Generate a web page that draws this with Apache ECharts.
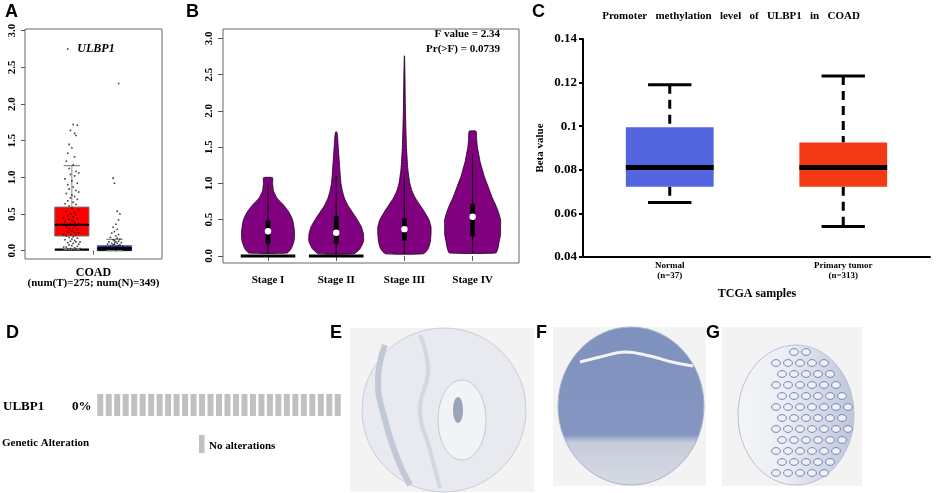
<!DOCTYPE html>
<html>
<head>
<meta charset="utf-8">
<title>ULBP1 in COAD</title>
<script src="https://cdn.jsdelivr.net/npm/echarts@6/dist/echarts.min.js"></script>
<style>
  html, body { margin: 0; padding: 0; background: #fff; }
  #main { width: 941px; height: 493px; }
</style>
</head>
<body>
<div id="main"></div>
<script>
var SERIF = '"Liberation Serif","Times New Roman",serif';
var SANS = '"Liberation Sans",Arial,sans-serif';

// ---- A: expression boxplot (tumor vs normal) ----
var aGroups = ['Tumor', 'Normal'];
var aCenters = [0.342, 0.653];
var aQ1 = [0.20, 0.00];
var aMed = [0.355, 0.03];
var aQ3 = [0.595, 0.07];
var aHi = [1.16, 0.155];
var aLo = [0.02, 0.00];
var aDense = [0.03, 0.05];
var aYTicks = [0, 0.5, 1, 1.5, 2, 2.5, 3];
// [jitter offset, value]
var aTumorPts = [
  [-0.03,2.75],[0.01,1.72],[0.04,1.71],[-0.01,1.64],[0.02,1.60],[0.03,1.57],[-0.02,1.45],[0.00,1.40],
  [-0.03,1.33],[0.02,1.28],[-0.04,1.22],[0.01,1.17],[-0.02,1.12],[0.03,1.08],[0.05,1.06],[-0.01,1.04],
  [0.02,1.02],[-0.05,0.98],[0.00,0.95],[0.04,0.92],[-0.03,0.90],[0.01,0.87],[-0.02,0.84],[0.03,0.82],
  [0.05,0.80],[-0.04,0.78],[0.00,0.76],[0.02,0.74],[-0.01,0.72],[0.04,0.70],[-0.03,0.68],[0.01,0.66],
  [-0.05,0.64],[0.03,0.63],[-0.02,0.61],[0.00,0.58],[0.05,0.56],[-0.04,0.54],[0.02,0.52],[-0.01,0.50],
  [0.03,0.49],[-0.03,0.47],[0.01,0.46],[0.04,0.44],[-0.02,0.43],[0.00,0.41],[-0.05,0.40],[0.02,0.39],
  [0.05,0.37],[-0.01,0.36],[0.03,0.34],[-0.04,0.33],[0.01,0.31],[-0.02,0.30],[0.04,0.29],[0.00,0.27],
  [-0.03,0.26],[0.02,0.25],[0.05,0.24],[-0.01,0.22],[0.03,0.21],[-0.04,0.20],[0.01,0.19],[-0.02,0.18],
  [0.04,0.17],[0.00,0.16],[-0.05,0.15],[0.02,0.14],[-0.01,0.13],[0.03,0.12],[-0.03,0.11],[0.01,0.10],
  [0.05,0.09],[-0.02,0.08],[0.00,0.07],[0.04,0.06],[-0.04,0.05],[0.02,0.04],[-0.01,0.03],[0.03,0.02],
  [-0.03,0.02],[0.01,0.01],[0.06,0.03],[-0.06,0.05],[0.06,0.12],[-0.06,0.22],[0.06,0.35],[-0.06,0.45]
];
var aNormalPts = [
  [0.03,2.28],[-0.01,0.99],[0.00,0.92],[0.02,0.54],[0.04,0.50],[0.03,0.42],[0.01,0.36],[-0.01,0.32],
  [0.02,0.29],[0.00,0.26],[-0.02,0.24],[0.03,0.22],[0.01,0.20],[-0.03,0.18],[0.02,0.17],[0.04,0.16],
  [-0.01,0.15],[0.00,0.14],[0.03,0.13],[-0.04,0.12],[0.01,0.12],[0.05,0.11],[-0.02,0.10],[0.02,0.10],
  [0.00,0.09],[-0.05,0.09],[0.04,0.08],[-0.01,0.08],[0.03,0.07],[-0.03,0.07],[0.01,0.06],[0.06,0.06],
  [-0.06,0.05],[0.02,0.05],[-0.02,0.04],[0.05,0.03],[0.00,0.03],[-0.04,0.02],[0.03,0.02],[0.01,0.01]
];

// ---- B: violins by stage ----
var stages = ['Stage I', 'Stage II', 'Stage III', 'Stage IV'];
var stageLo = [0.04, 0.03, 0.03, 0.04];
var stageQ1 = [0.17, 0.17, 0.21, 0.27];
var stageMed = [0.34, 0.32, 0.37, 0.54];
var stageQ3 = [0.49, 0.55, 0.52, 0.72];
var stageHi = [1.01, 1.10, 1.15, 1.40];
var stageZero = [0.40, 0.40, 0, 0];
var bTicks = [0, 0.5, 1, 1.5, 2, 2.5, 3];
// [value, half width]
var violinI = [[0.04,0.28],[0.1,0.34],[0.2,0.38],[0.3,0.39],[0.4,0.38],[0.5,0.36],[0.6,0.31],[0.7,0.23],
  [0.8,0.13],[0.9,0.08],[1.0,0.067],[1.08,0.066]];
var violinII = [[0.03,0.26],[0.1,0.35],[0.2,0.40],[0.3,0.40],[0.4,0.37],[0.5,0.31],[0.6,0.24],[0.7,0.17],
  [0.8,0.12],[0.9,0.09],[1.0,0.07],[1.1,0.06],[1.3,0.045],[1.5,0.03],[1.65,0.02],[1.71,0.008]];
var violinIII = [[0.03,0.28],[0.1,0.35],[0.2,0.38],[0.3,0.39],[0.4,0.39],[0.5,0.36],[0.6,0.30],[0.7,0.23],
  [0.8,0.16],[0.9,0.11],[1.0,0.08],[1.2,0.05],[1.5,0.03],[2.0,0.015],[2.5,0.008],[2.76,0.002]];
var violinIV = [[0.04,0.34],[0.1,0.37],[0.2,0.39],[0.3,0.41],[0.4,0.41],[0.5,0.41],[0.6,0.38],[0.7,0.34],
  [0.8,0.29],[0.9,0.25],[1.0,0.21],[1.1,0.17],[1.2,0.14],[1.3,0.11],[1.4,0.09],[1.5,0.07],[1.6,0.06],[1.72,0.05]];
var violins = [violinI, violinII, violinIII, violinIV];

// ---- C: methylation boxplot ----
var cCats = ['Normal\n(n=37)', 'Primary tumor\n(n=313)'];
var cMin = [0.065, 0.054];
var cQ1 = [0.0722, 0.0722];
var cMed = [0.081, 0.081];
var cQ3 = [0.0995, 0.0925];
var cMax = [0.119, 0.123];
var cColors = ['#5366e0', '#f23a14'];

// ---- D: oncoprint ----
var dSamples = [];
for (var k = 1; k <= 29; k++) dSamples.push('S' + k);
var dAltered = [1,1,1,1,1,1,1,1,1,1,1,1,1,1,1,1,1,1,1,1,1,1,1,1,1,1,1,1,1];

var chart = echarts.init(document.getElementById('main'));

function aBoxItem(params, api) {
  var i = params.dataIndex;
  var c = aCenters[i], hw = 0.125;
  var tl = api.coord([c - hw, aQ3[i]]);
  var br = api.coord([c + hw, aQ1[i]]);
  var m1 = api.coord([c - hw, aMed[i]]);
  var m2 = api.coord([c + hw, aMed[i]]);
  var d1 = api.coord([c - hw, aDense[i]]);
  var d0 = api.coord([c + hw, 0]);
  var hi1 = api.coord([c - 0.06, aHi[i]]);
  var hi2 = api.coord([c + 0.06, aHi[i]]);
  var lo1 = api.coord([c - 0.06, aLo[i]]);
  var lo2 = api.coord([c + 0.06, aLo[i]]);
  var fill = i === 0 ? '#ff0000' : '#1f2ed8';
  return {
    type: 'group',
    children: [
      { type: 'line', shape: { x1: (hi1[0] + hi2[0]) / 2, y1: hi1[1], x2: (hi1[0] + hi2[0]) / 2, y2: tl[1] }, style: { stroke: '#888', lineWidth: 1 } },
      { type: 'rect', shape: { x: tl[0], y: tl[1], width: br[0] - tl[0], height: Math.max(br[1] - tl[1], 1) }, style: { fill: fill, stroke: '#777', lineWidth: 1 } },
      { type: 'rect', shape: { x: d1[0], y: d1[1], width: d0[0] - d1[0], height: d0[1] - d1[1] }, style: { fill: '#000' } },
      { type: 'line', shape: { x1: m1[0], y1: m1[1], x2: m2[0], y2: m2[1] }, style: { stroke: '#000', lineWidth: 2 } },
      { type: 'line', shape: { x1: hi1[0], y1: hi1[1], x2: hi2[0], y2: hi2[1] }, style: { stroke: '#888', lineWidth: 1.2 } },
      { type: 'line', shape: { x1: lo1[0], y1: lo1[1], x2: lo2[0], y2: lo2[1] }, style: { stroke: '#888', lineWidth: 1.2 } }
    ]
  };
}

function violinItem(params, api) {
  var i = params.dataIndex;
  var x0 = i + 1;
  var prof = violins[i];
  var pts = [];
  prof.forEach(function (p) { pts.push(api.coord([x0 + p[1], p[0]])); });
  prof.slice().reverse().forEach(function (p) { pts.push(api.coord([x0 - p[1], p[0]])); });
  var bw = 0.035;
  var q1 = api.coord([x0 - bw, stageQ1[i]]);
  var q3 = api.coord([x0 + bw, stageQ3[i]]);
  var lo = api.coord([x0, stageLo[i]]);
  var hi = api.coord([x0, stageHi[i]]);
  var med = api.coord([x0, stageMed[i]]);
  var children = [
    { type: 'polygon', shape: { points: pts, smooth: 0.15 }, style: { fill: '#800080', stroke: '#1a001a', lineWidth: 0.8 } },
    { type: 'line', shape: { x1: lo[0], y1: lo[1], x2: hi[0], y2: hi[1] }, style: { stroke: '#000', lineWidth: 1 } },
    { type: 'rect', shape: { x: q1[0], y: q3[1], width: q3[0] - q1[0], height: q1[1] - q3[1] }, style: { fill: '#000' } },
    { type: 'circle', shape: { cx: med[0], cy: med[1], r: 3.2 }, style: { fill: '#fff' } }
  ];
  if (stageZero[i] > 0) {
    var z1 = api.coord([x0 - stageZero[i], 0]);
    var z2 = api.coord([x0 + stageZero[i], 0]);
    children.push({ type: 'line', shape: { x1: z1[0], y1: z1[1], x2: z2[0], y2: z2[1] }, style: { stroke: '#000', lineWidth: 3 } });
  }
  return { type: 'group', children: children };
}

function cBoxItem(params, api) {
  var i = params.dataIndex;
  var band = api.size([1, 0])[0];
  var hw = band * 0.253;
  var cw = band * 0.125;
  var cx = api.coord([i, cMed[i]])[0];
  var y = function (v) { return api.coord([i, v])[1]; };
  return {
    type: 'group',
    children: [
      { type: 'line', shape: { x1: cx, y1: y(cMax[i]), x2: cx, y2: y(cQ3[i]) }, style: { stroke: '#000', lineWidth: 3, lineDash: [9, 6] } },
      { type: 'line', shape: { x1: cx, y1: y(cQ1[i]), x2: cx, y2: y(cMin[i]) }, style: { stroke: '#000', lineWidth: 3, lineDash: [9, 6] } },
      { type: 'line', shape: { x1: cx - cw, y1: y(cMax[i]), x2: cx + cw, y2: y(cMax[i]) }, style: { stroke: '#000', lineWidth: 3 } },
      { type: 'line', shape: { x1: cx - cw, y1: y(cMin[i]), x2: cx + cw, y2: y(cMin[i]) }, style: { stroke: '#000', lineWidth: 3 } },
      { type: 'rect', shape: { x: cx - hw, y: y(cQ3[i]), width: hw * 2, height: y(cQ1[i]) - y(cQ3[i]) }, style: { fill: cColors[i] } },
      { type: 'line', shape: { x1: cx - hw, y1: y(cMed[i]), x2: cx + hw, y2: y(cMed[i]) }, style: { stroke: '#000', lineWidth: 5 } }
    ]
  };
}

function txt(x, y, text, size, opts) {
  opts = opts || {};
  return {
    type: 'text', x: x, y: y, rotation: opts.rotation || 0, silent: true,
    style: {
      text: text, fill: '#000', fontFamily: opts.family || SERIF, fontWeight: opts.weight || 'bold',
      fontStyle: opts.style || 'normal', fontSize: size,
      textAlign: opts.align || 'left', textVerticalAlign: 'middle'
    }
  };
}

// decorative crypts for tissue G
var gCrypts = [];
for (var yy = 352; yy < 484; yy += 11) {
  for (var xx = 770; xx < 856; xx += 12) {
    var cxx = xx + ((yy - 352) % 22 ? 6 : 0);
    var dx = (cxx - 800) / 54, dy = (yy - 415) / 70;
    if (dx * dx + dy * dy < 0.9 && cxx > 770) {
      gCrypts.push({ type: 'ellipse', silent: true, shape: { cx: cxx, cy: yy, rx: 4.4, ry: 3.4 }, style: { fill: '#eef0f5', stroke: '#7283b5', lineWidth: 1 } });
    }
  }
}

var graphics = [
  txt(5, 12, 'A', 18, { family: SANS }),
  txt(186, 12, 'B', 18, { family: SANS }),
  txt(532, 12, 'C', 18, { family: SANS }),
  txt(6, 333, 'D', 18, { family: SANS }),
  txt(330, 333, 'E', 18, { family: SANS }),
  txt(536, 333, 'F', 18, { family: SANS }),
  txt(706, 333, 'G', 18, { family: SANS }),
  txt(96, 49, 'ULBP1', 12, { align: 'center', style: 'italic' }),
  txt(500, 34, 'F value = 2.34', 11, { align: 'right' }),
  txt(500, 49, 'Pr(>F) = 0.0739', 11, { align: 'right' }),
  txt(731, 16, 'Promoter   methylation   level   of   ULBP1   in   COAD', 11, { align: 'center' }),
  txt(540, 148, 'Beta value', 11, { align: 'center', rotation: Math.PI / 2 }),
  txt(757, 294, 'TCGA samples', 12, { align: 'center' }),
  txt(3, 407, 'ULBP1', 13),
  txt(72, 407, '0%', 13),
  txt(2, 443, 'Genetic Alteration', 11),
  { type: 'rect', silent: true, shape: { x: 199, y: 435, width: 5.5, height: 18 }, style: { fill: '#c0c0c0' } },
  txt(209, 446, 'No alterations', 11),
  // tissue images E, F, G
  { type: 'rect', silent: true, shape: { x: 350, y: 328, width: 184, height: 164 }, style: { fill: '#f3f3f3' } },
  { type: 'circle', silent: true, shape: { cx: 444, cy: 410, r: 82 }, style: { fill: '#e8eaef', stroke: '#c8cdd8', lineWidth: 1 } },
  { type: 'polyline', silent: true, shape: { points: [[385, 345], [378, 380], [385, 420], [398, 460], [410, 485]], smooth: 0.5 }, style: { stroke: '#c2c8d6', lineWidth: 6, fill: null } },
  { type: 'polyline', silent: true, shape: { points: [[420, 335], [428, 370], [420, 410], [430, 450], [440, 488]], smooth: 0.5 }, style: { stroke: '#d3d7e1', lineWidth: 4, fill: null } },
  { type: 'ellipse', silent: true, shape: { cx: 462, cy: 420, rx: 24, ry: 40 }, style: { fill: '#f2f3f6', stroke: '#c3c9d6', lineWidth: 1 } },
  { type: 'ellipse', silent: true, shape: { cx: 458, cy: 410, rx: 5, ry: 13 }, style: { fill: '#9aa3bb' } },
  { type: 'rect', silent: true, shape: { x: 553, y: 327, width: 153, height: 159 }, style: { fill: '#f3f3f3' } },
  { type: 'ellipse', silent: true, shape: { cx: 631, cy: 406, rx: 73, ry: 79 },
    style: { fill: new echarts.graphic.LinearGradient(0, 0, 0, 1, [
      { offset: 0, color: '#7f91bd' }, { offset: 0.68, color: '#8395c0' },
      { offset: 0.73, color: '#c6ccda' }, { offset: 1, color: '#d6dae3' }]), stroke: '#aab3c9', lineWidth: 1 } },
  { type: 'polyline', silent: true, shape: { points: [[580, 362], [600, 357], [625, 352], [650, 356], [672, 362], [693, 366]], smooth: 0.4 }, style: { stroke: '#f3f4f8', lineWidth: 3, fill: null } },
  { type: 'rect', silent: true, shape: { x: 722, y: 327, width: 140, height: 159 }, style: { fill: '#f3f3f3' } },
  { type: 'ellipse', silent: true, shape: { cx: 796, cy: 415, rx: 58, ry: 70 },
    style: { fill: new echarts.graphic.LinearGradient(0, 0, 1, 0, [
      { offset: 0, color: '#f4f5f8' }, { offset: 0.4, color: '#eceef3' }, { offset: 1, color: '#bcc5db' }]), stroke: '#b9c1d6', lineWidth: 1 } }
].concat(gCrypts);

var option = {
  animation: false,
  textStyle: { fontFamily: SERIF },
  graphic: graphics,
  grid: [
    { left: 25, top: 29, width: 137, height: 230, show: true, borderColor: '#666', borderWidth: 1 },
    { left: 223, top: 29, width: 296, height: 234, show: true, borderColor: '#666', borderWidth: 1 },
    { left: 583, top: 39, width: 347, height: 218 },
    { left: 96, top: 394, width: 246, height: 22 }
  ],
  xAxis: [
    { type: 'category', gridIndex: 0, data: ['COAD'], boundaryGap: true,
      axisLine: { show: false },
      axisTick: { show: true, alignWithLabel: true, length: 4, lineStyle: { color: '#555' } },
      axisLabel: { margin: 8, formatter: function (v) { return '{a|' + v + '}\n{b|(num(T)=275; num(N)=349)}'; },
        rich: { a: { fontSize: 12, fontWeight: 'bold', fontFamily: SERIF, lineHeight: 11, color: '#000' },
                b: { fontSize: 11, fontWeight: 'bold', fontFamily: SERIF, lineHeight: 11, color: '#000' } } },
      splitLine: { show: false } },
    { type: 'value', gridIndex: 0, min: 0, max: 1, show: false },
    { type: 'value', gridIndex: 1, min: 0.34, max: 4.68,
      axisLine: { show: false },
      axisTick: { show: true, customValues: [1, 2, 3, 4], length: 5, lineStyle: { color: '#555' } },
      axisLabel: { customValues: [1, 2, 3, 4], margin: 12, formatter: function (v) { return stages[v - 1]; },
        fontSize: 11, fontWeight: 'bold', fontFamily: SERIF, color: '#000' },
      splitLine: { show: false } },
    { type: 'category', gridIndex: 2, data: cCats, boundaryGap: true,
      axisLine: { show: true, lineStyle: { color: '#000', width: 2 } },
      axisTick: { show: false },
      axisLabel: { margin: 4, fontSize: 9, lineHeight: 10, fontWeight: 'bold', fontFamily: SERIF, color: '#000' },
      splitLine: { show: false } },
    { type: 'category', gridIndex: 3, data: dSamples, show: false }
  ],
  yAxis: [
    { type: 'value', gridIndex: 0, min: -0.113, max: 3.023,
      axisLine: { show: false },
      axisTick: { show: true, customValues: aYTicks, length: 4, lineStyle: { color: '#555' } },
      axisLabel: { customValues: aYTicks, rotate: 90, margin: 7, formatter: function (v) { return v.toFixed(1); },
        fontSize: 11, fontWeight: 'bold', fontFamily: SERIF, color: '#000' },
      splitLine: { show: false } },
    { type: 'value', gridIndex: 1, min: -0.097, max: 3.13,
      axisLine: { show: false },
      axisTick: { show: true, customValues: bTicks, length: 5, lineStyle: { color: '#555' } },
      axisLabel: { customValues: bTicks, rotate: 90, margin: 8, formatter: function (v) { return v.toFixed(1); },
        fontSize: 11, fontWeight: 'bold', fontFamily: SERIF, color: '#000' },
      splitLine: { show: false } },
    { type: 'value', gridIndex: 2, min: 0.04, max: 0.14, interval: 0.02,
      axisLine: { show: true, lineStyle: { color: '#000', width: 2 } },
      axisTick: { show: true, length: 4, lineStyle: { color: '#000', width: 2 } },
      axisLabel: { margin: 6, fontSize: 13, fontWeight: 'bold', fontFamily: SERIF, color: '#000',
        formatter: function (v) { return String(+v.toFixed(2)); } },
      splitLine: { show: false } },
    { type: 'value', gridIndex: 3, min: 0, max: 1, show: false }
  ],
  series: [
    { type: 'custom', name: 'A boxes', xAxisIndex: 1, yAxisIndex: 0, renderItem: aBoxItem,
      data: aGroups.map(function (g, i) { return [aCenters[i], aMed[i]]; }), silent: true, z: 2 },
    { type: 'scatter', name: 'Tumor', xAxisIndex: 1, yAxisIndex: 0, symbol: 'rect', symbolSize: 1.6,
      itemStyle: { color: '#111' }, silent: true, z: 3,
      data: aTumorPts.map(function (p) { return [aCenters[0] + p[0], p[1]]; }) },
    { type: 'scatter', name: 'Normal', xAxisIndex: 1, yAxisIndex: 0, symbol: 'rect', symbolSize: 1.6,
      itemStyle: { color: '#111' }, silent: true, z: 3,
      data: aNormalPts.map(function (p) { return [aCenters[1] + p[0], p[1]]; }) },
    { type: 'custom', name: 'Violins', xAxisIndex: 2, yAxisIndex: 1, renderItem: violinItem,
      data: stages.map(function (s, i) { return [i + 1, stageMed[i]]; }), silent: true },
    { type: 'custom', name: 'Methylation', xAxisIndex: 3, yAxisIndex: 2, renderItem: cBoxItem,
      data: cCats.map(function (c, i) { return [i, cMed[i]]; }), silent: true },
    { type: 'bar', name: 'Alteration', xAxisIndex: 4, yAxisIndex: 3, data: dAltered, barWidth: 6,
      itemStyle: { color: '#c0c0c0' }, silent: true }
  ]
};

chart.setOption(option);
</script>
</body>
</html>
